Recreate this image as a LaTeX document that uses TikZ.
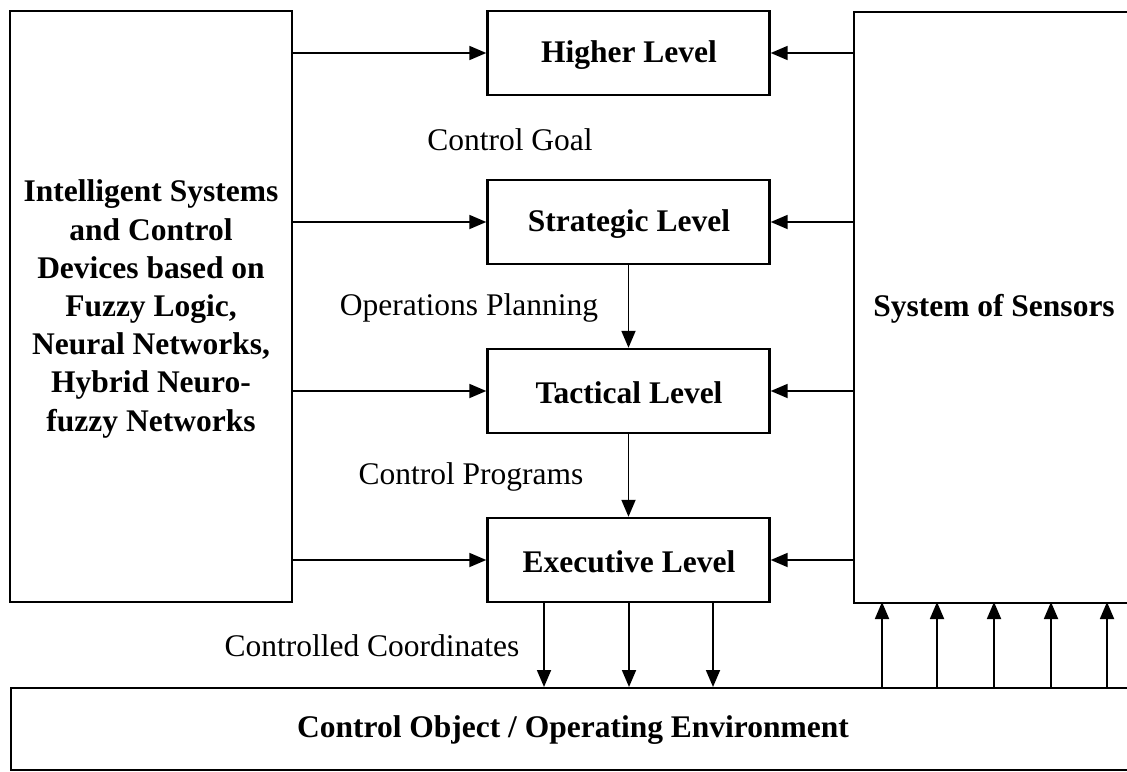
\documentclass[tikz,border=0pt]{standalone}
\usepackage{fontspec}
\setmainfont{Liberation Serif}
\usetikzlibrary{arrows.meta,positioning,calc}
\tikzset{
  box/.style={draw, line width=2.4pt, inner sep=0pt, font=\fontsize{31.5}{38}\selectfont\bfseries, align=center},
  arr/.style={line width=1.8pt, -{Triangle[length=17pt,width=14pt]}},
  lbl/.style={font=\fontsize{31.5}{34}\selectfont, inner sep=0pt},
  btext/.style={font=\fontsize{31.5}{34}\selectfont\bfseries, inner sep=0pt},
}
\begin{document}
\begin{tikzpicture}[x=1pt,y=-1pt]
\useasboundingbox (0,0) rectangle (1127,771);
\clip (0,0) rectangle (1127,771);
% left box
\node[box, minimum width=282pt, minimum height=591pt] (intel) at (151,306.5) {};
\node[btext, align=center, font=\fontsize{31.5}{38.2}\selectfont\bfseries] (intelt) at (151,309)
  {Intelligent Systems\\and Control\\Devices based on\\Fuzzy Logic,\\Neural Networks,\\Hybrid Neuro-\\fuzzy Networks};
% levels
\node[box, minimum width=282pt, minimum height=84pt] (hl) at (628.5,53) {};
\node[box, minimum width=282pt, minimum height=84pt] (sl) at (628.5,222) {};
\node[box, minimum width=282pt, minimum height=84pt] (tl) at (628.5,391) {};
\node[box, minimum width=282pt, minimum height=84pt] (el) at (628.5,560) {};
\node[btext] (hlt) at (629,55) {Higher Level};
\node[btext] (slt) at (629,224) {Strategic Level};
\node[btext] (tlt) at (629,393) {Tactical Level};
\node[btext] (elt) at (629,562) {Executive Level};
% sensors (open on the right)
\node[box, minimum width=300pt, minimum height=591pt, anchor=north west] (sens) at (853,11) {};
\node[btext] (senst) at (994,309) {System of Sensors};
% bottom box (open on the right)
\node[box, minimum width=1140pt, minimum height=82pt, anchor=north west] (obj) at (10,687) {};
\node[btext] (objt) at (573,730) {Control Object / Operating Environment};
% labels
\node[lbl] (cg) at (510,140) {Control Goal};
\node[lbl] (op) at (469,308) {Operations Planning};
\node[lbl] (cp) at (471,477) {Control Programs};
\node[lbl] (cc) at (372,646) {Controlled Coordinates};
% horizontal arrows
\foreach \n in {hl,sl,tl,el}{
  \draw[arr] (intel.east |- \n.west) -- (\n.west);
  \draw[arr] (sens.west |- \n.east) -- (\n.east);
}
% vertical arrows
\draw[arr] (sl.south) -- (tl.north);
\draw[arr] (tl.south) -- (el.north);
% down arrows
\foreach \x in {544,629,713}{
  \draw[arr] (\x,602) -- (\x,687);
}
% up arrows
\foreach \x in {882,937,994,1051,1107}{
  \draw[arr] (\x,687) -- (\x,602);
}
\end{tikzpicture}
\end{document}
